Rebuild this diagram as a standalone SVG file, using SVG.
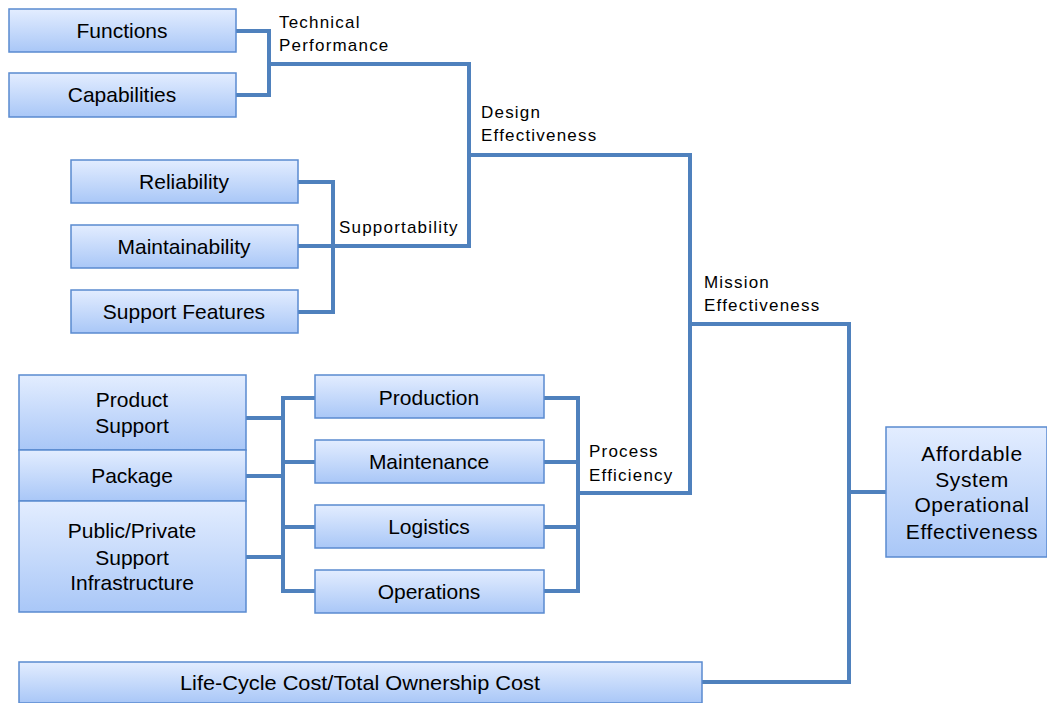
<svg xmlns="http://www.w3.org/2000/svg" width="1047" height="703" viewBox="0 0 1047 703">
<style>
.box{fill:url(#g);stroke:#5a8ad0;stroke-width:1.5}
.t{font-family:"Liberation Sans",Arial,sans-serif;font-size:21px;fill:#000;text-anchor:middle}
.l{font-family:"Liberation Sans",Arial,sans-serif;font-size:17px;letter-spacing:1.2px;fill:#000}
.c{fill:none;stroke:#4f81bd;stroke-width:4;stroke-linejoin:miter}
</style>
<defs>
<linearGradient id="g" x1="0" y1="0" x2="0" y2="1">
<stop offset="0" stop-color="#e3edff"/>
<stop offset="1" stop-color="#a9c7f7"/>
</linearGradient>
</defs>
<rect width="1047" height="703" fill="#fff"/>
<g id="connectors">
<path class="c" d="M236,31 H269 V95 H236 M269,64 H469 V246 H298 M469,155 H690 V493 H578 M690,324 H849 V682 H702 M849,492 H886"/>
<path class="c" d="M298,182 H333 V312 H298"/>
<path class="c" d="M246,418 H283 M246,476 H283 M246,557 H283 M315,398 H283 V591 H315 M283,462 H315 M283,527 H315"/>
<path class="c" d="M544,398 H578 V591 H544 M544,462 H578 M544,527 H578"/>
</g>
<g id="functions"><rect class="box" x="9" y="9" width="227" height="43"/><text class="t" x="122" y="38">Functions</text></g>
<g id="capabilities"><rect class="box" x="9" y="73" width="227" height="44"/><text class="t" x="122" y="102">Capabilities</text></g>
<g id="reliability"><rect class="box" x="71" y="160" width="227" height="43"/><text class="t" x="184" y="189">Reliability</text></g>
<g id="maintainability"><rect class="box" x="71" y="225" width="227" height="43"/><text class="t" x="184" y="254">Maintainability</text></g>
<g id="supportfeatures"><rect class="box" x="71" y="290" width="227" height="43"/><text class="t" x="184" y="319">Support Features</text></g>
<g id="productsupport"><rect class="box" x="19" y="375" width="227" height="75"/><text class="t" x="132" y="407">Product</text><text class="t" x="132" y="433">Support</text></g>
<g id="package"><rect class="box" x="19" y="450" width="227" height="51"/><text class="t" x="132" y="483">Package</text></g>
<g id="publicprivate"><rect class="box" x="19" y="501" width="227" height="111"/><text class="t" x="132" y="538">Public/Private</text><text class="t" x="132" y="565">Support</text><text class="t" x="132" y="590">Infrastructure</text></g>
<g id="production"><rect class="box" x="315" y="375" width="229" height="43"/><text class="t" x="429" y="405">Production</text></g>
<g id="maintenance"><rect class="box" x="315" y="440" width="229" height="43"/><text class="t" x="429" y="469">Maintenance</text></g>
<g id="logistics"><rect class="box" x="315" y="505" width="229" height="43"/><text class="t" x="429" y="534">Logistics</text></g>
<g id="operations"><rect class="box" x="315" y="570" width="229" height="43"/><text class="t" x="429" y="599">Operations</text></g>
<g id="affordable"><rect class="box" x="886" y="427" width="161" height="130"/><text class="t" x="972" y="461" letter-spacing="0.6">Affordable</text><text class="t" x="972" y="487" letter-spacing="0.6">System</text><text class="t" x="972" y="512" letter-spacing="0.6">Operational</text><text class="t" x="972" y="539" letter-spacing="0.6">Effectiveness</text></g>
<g id="lifecycle"><rect class="box" x="19" y="662" width="683" height="41"/><text class="t" x="360" y="690" textLength="360" lengthAdjust="spacingAndGlyphs">Life-Cycle Cost/Total Ownership Cost</text></g>
<g id="labels">
<text class="l" x="279" y="28">Technical</text><text class="l" x="279" y="51">Performance</text>
<text class="l" x="481" y="118">Design</text><text class="l" x="481" y="141">Effectiveness</text>
<text class="l" x="339" y="233">Supportability</text>
<text class="l" x="704" y="288">Mission</text><text class="l" x="704" y="311">Effectiveness</text>
<text class="l" x="589" y="457">Process</text><text class="l" x="589" y="481">Efficiency</text>
</g>
</svg>
